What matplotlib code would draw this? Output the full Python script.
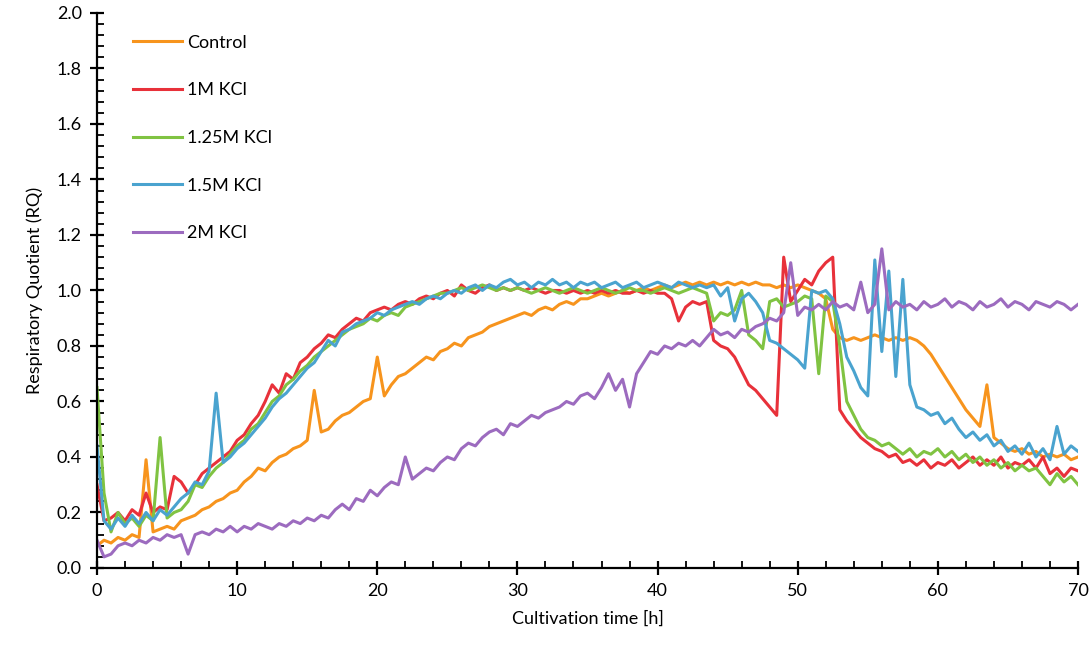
import numpy as np
import matplotlib
matplotlib.use("Agg")
import matplotlib.pyplot as plt
from matplotlib.ticker import MultipleLocator, FormatStrFormatter

plt.rcParams['font.family'] = ['Lato', 'DejaVu Sans']

# RQ readings every half hour, 0 - 70 h
hours = np.arange(0, 70.5, 0.5)

control_rq = [
    0.08, 0.10, 0.09, 0.11, 0.10, 0.12, 0.11, 0.39, 0.13, 0.14,
    0.15, 0.14, 0.17, 0.18, 0.19, 0.21, 0.22, 0.24, 0.25, 0.27,
    0.28, 0.31, 0.33, 0.36, 0.35, 0.38, 0.40, 0.41, 0.43, 0.44,
    0.46, 0.64, 0.49, 0.50, 0.53, 0.55, 0.56, 0.58, 0.60, 0.61,
    0.76, 0.62, 0.66, 0.69, 0.70, 0.72, 0.74, 0.76, 0.75, 0.78,
    0.79, 0.81, 0.80, 0.83, 0.84, 0.85, 0.87, 0.88, 0.89, 0.90,
    0.91, 0.92, 0.91, 0.93, 0.94, 0.93, 0.95, 0.96, 0.95, 0.97,
    0.97, 0.98, 0.99, 0.98, 0.99, 1.00, 0.99, 1.00, 1.01, 1.00,
    1.01, 1.02, 1.01, 1.02, 1.03, 1.02, 1.03, 1.02, 1.03, 1.02,
    1.03, 1.02, 1.03, 1.02, 1.03, 1.02, 1.02, 1.01, 1.02, 1.01,
    1.02, 1.01, 1.00, 0.99, 0.97, 0.86, 0.83, 0.82, 0.83, 0.82,
    0.83, 0.84, 0.83, 0.82, 0.83, 0.82, 0.83, 0.82, 0.80, 0.77,
    0.73, 0.69, 0.65, 0.61, 0.57, 0.54, 0.51, 0.66, 0.47, 0.45,
    0.43, 0.42, 0.43, 0.41, 0.42, 0.40, 0.41, 0.40, 0.41, 0.39,
    0.40,
]

kcl_1m_rq = [
    0.30, 0.17, 0.18, 0.20, 0.17, 0.21, 0.19, 0.27, 0.20, 0.22,
    0.21, 0.33, 0.31, 0.27, 0.30, 0.34, 0.36, 0.38, 0.40, 0.42,
    0.46, 0.48, 0.52, 0.55, 0.60, 0.66, 0.63, 0.70, 0.68, 0.74,
    0.76, 0.79, 0.81, 0.84, 0.83, 0.86, 0.88, 0.90, 0.89, 0.92,
    0.93, 0.94, 0.93, 0.95, 0.96, 0.95, 0.97, 0.98, 0.97, 0.99,
    1.00, 0.98, 1.02, 1.00, 0.99, 1.01, 1.02, 1.00, 1.01, 1.00,
    1.01, 1.00, 1.01, 1.00, 0.99, 1.00, 1.00, 0.99, 1.00, 0.99,
    1.00, 0.99, 1.00, 0.99, 1.00, 0.99, 0.99, 1.00, 0.99, 1.00,
    0.99, 0.99, 0.97, 0.89, 0.94, 0.96, 0.95, 0.96, 0.82, 0.80,
    0.79, 0.76, 0.71, 0.66, 0.64, 0.61, 0.58, 0.55, 1.12, 0.96,
    1.00, 1.04, 1.02, 1.07, 1.10, 1.12, 0.57, 0.53, 0.50, 0.47,
    0.45, 0.43, 0.42, 0.40, 0.41, 0.38, 0.39, 0.37, 0.39, 0.36,
    0.38, 0.37, 0.39, 0.36, 0.38, 0.40, 0.37, 0.39, 0.37, 0.40,
    0.36, 0.38, 0.37, 0.39, 0.36, 0.40, 0.34, 0.36, 0.33, 0.36,
    0.35,
]

kcl_125m_rq = [
    0.65, 0.27, 0.13, 0.20, 0.16, 0.18, 0.15, 0.19, 0.17, 0.47,
    0.18, 0.20, 0.21, 0.24, 0.30, 0.29, 0.33, 0.36, 0.38, 0.41,
    0.44, 0.46, 0.50, 0.52, 0.56, 0.60, 0.62, 0.66, 0.68, 0.71,
    0.73, 0.76, 0.78, 0.80, 0.82, 0.84, 0.86, 0.87, 0.88, 0.90,
    0.89, 0.91, 0.92, 0.91, 0.94, 0.95, 0.96, 0.97, 0.98, 0.99,
    0.99, 1.00, 1.01, 1.00, 1.01, 1.02, 1.01, 1.00, 1.01, 1.00,
    1.01, 1.00, 0.99, 1.00, 1.01, 1.00, 0.99, 1.00, 1.01, 1.00,
    0.99, 1.00, 1.01, 1.00, 0.99, 1.00, 1.01, 1.00, 1.00, 0.99,
    1.00, 1.01, 1.00, 0.99, 1.00, 1.01, 1.00, 0.99, 0.89, 0.92,
    0.91, 0.93, 1.00, 0.84, 0.82, 0.79, 0.96, 0.97, 0.94, 0.95,
    0.96, 0.98, 0.97, 0.70, 0.98, 0.96, 0.80, 0.60, 0.55, 0.50,
    0.47, 0.46, 0.44, 0.45, 0.43, 0.41, 0.43, 0.40, 0.42, 0.41,
    0.43, 0.40, 0.42, 0.39, 0.41, 0.38, 0.40, 0.37, 0.39, 0.36,
    0.38, 0.35, 0.37, 0.35, 0.36, 0.33, 0.30, 0.34, 0.31, 0.33,
    0.30,
]

kcl_15m_rq = [
    0.44, 0.17, 0.14, 0.18, 0.15, 0.19, 0.16, 0.20, 0.17, 0.21,
    0.19, 0.22, 0.25, 0.27, 0.31, 0.30, 0.35, 0.63, 0.38, 0.40,
    0.43, 0.45, 0.48, 0.51, 0.54, 0.58, 0.61, 0.63, 0.66, 0.69,
    0.72, 0.74, 0.78, 0.82, 0.80, 0.85, 0.86, 0.88, 0.89, 0.90,
    0.92, 0.91, 0.93, 0.94, 0.95, 0.96, 0.95, 0.97, 0.98, 0.97,
    0.99, 1.00, 0.99, 1.01, 1.02, 1.00, 1.02, 1.01, 1.03, 1.04,
    1.02, 1.03, 1.01, 1.03, 1.02, 1.04, 1.02, 1.03, 1.01, 1.03,
    1.02, 1.03, 1.01, 1.02, 1.03, 1.01, 1.02, 1.03, 1.01, 1.02,
    1.03, 1.02, 1.01, 1.03, 1.02, 1.01, 1.02, 1.01, 1.02, 0.98,
    1.01, 0.89, 0.97, 0.99, 0.96, 0.92, 0.82, 0.81, 0.79, 0.77,
    0.75, 0.72, 1.00, 0.99, 1.00, 0.97, 0.88, 0.76, 0.71, 0.65,
    0.62, 1.11, 0.78, 1.07, 0.69, 1.04, 0.66, 0.58, 0.57, 0.55,
    0.56, 0.52, 0.54, 0.50, 0.47, 0.49, 0.46, 0.48, 0.44, 0.46,
    0.42, 0.44, 0.41, 0.45, 0.40, 0.43, 0.39, 0.51, 0.41, 0.44,
    0.42,
]

kcl_2m_rq = [
    0.10, 0.04, 0.05, 0.08, 0.09, 0.08, 0.10, 0.09, 0.11, 0.10,
    0.12, 0.11, 0.12, 0.05, 0.12, 0.13, 0.12, 0.14, 0.13, 0.15,
    0.13, 0.15, 0.14, 0.16, 0.15, 0.14, 0.16, 0.15, 0.17, 0.16,
    0.18, 0.17, 0.19, 0.18, 0.21, 0.23, 0.21, 0.25, 0.24, 0.28,
    0.26, 0.29, 0.31, 0.30, 0.40, 0.32, 0.34, 0.36, 0.35, 0.38,
    0.40, 0.39, 0.43, 0.45, 0.44, 0.47, 0.49, 0.50, 0.48, 0.52,
    0.51, 0.53, 0.55, 0.54, 0.56, 0.57, 0.58, 0.60, 0.59, 0.62,
    0.63, 0.61, 0.65, 0.70, 0.64, 0.68, 0.58, 0.70, 0.74, 0.78,
    0.77, 0.80, 0.79, 0.81, 0.80, 0.82, 0.80, 0.83, 0.86, 0.84,
    0.85, 0.83, 0.86, 0.85, 0.87, 0.88, 0.90, 0.89, 0.92, 1.10,
    0.91, 0.94, 0.93, 0.95, 0.93, 0.96, 0.94, 0.95, 0.93, 1.03,
    0.92, 0.95, 1.15, 0.93, 0.96, 0.94, 0.95, 0.93, 0.96, 0.94,
    0.95, 0.97, 0.94, 0.96, 0.95, 0.93, 0.96, 0.94, 0.95, 0.97,
    0.94, 0.96, 0.95, 0.93, 0.96, 0.95, 0.94, 0.96, 0.95, 0.93,
    0.95,
]

labels = ['Control', '1M KCl', '1.25M KCl', '1.5M KCl', '2M KCl']
series = [control_rq, kcl_1m_rq, kcl_125m_rq, kcl_15m_rq, kcl_2m_rq]
colors = ['#F7941D', '#E8313A', '#80C342', '#4AA3CF', '#9C6BBF']

fig = plt.figure(figsize=(10.9, 6.48), dpi=100)
ax = fig.add_axes([0.089, 0.1235, 0.9, 0.8565])

for rq, label, color in zip(series, labels, colors):
    ax.plot(hours, rq, color=color, lw=2.2, label=label, solid_joinstyle='round')

ax.set_xlim(0, 70)
ax.set_ylim(0, 2.0)
ax.xaxis.set_major_locator(MultipleLocator(10))
ax.xaxis.set_minor_locator(MultipleLocator(2))
ax.yaxis.set_major_locator(MultipleLocator(0.2))
ax.yaxis.set_minor_locator(MultipleLocator(0.04))
ax.yaxis.set_major_formatter(FormatStrFormatter('%.1f'))

for side in ['top', 'right']:
    ax.spines[side].set_visible(False)
for side in ['left', 'bottom']:
    ax.spines[side].set_linewidth(1.6)
    ax.spines[side].set_color('black')

ax.tick_params(which='major', direction='inout', length=10, width=1.6,
               labelsize=13, colors='black', pad=6)
ax.tick_params(which='minor', direction='in', length=5, width=1.3)

ax.set_xlabel('Cultivation time [h]', fontsize=13, labelpad=8)
ax.set_ylabel('Respiratory Quotient (RQ)', fontsize=13, labelpad=10)

leg = ax.legend(loc='upper left', bbox_to_anchor=(0.02, 0.99), frameon=False,
                fontsize=13, handlelength=2.7, handletextpad=0.3,
                labelspacing=1.75)
for line in leg.get_lines():
    line.set_linewidth(2.2)

fig.savefig('out.png', dpi=100)
